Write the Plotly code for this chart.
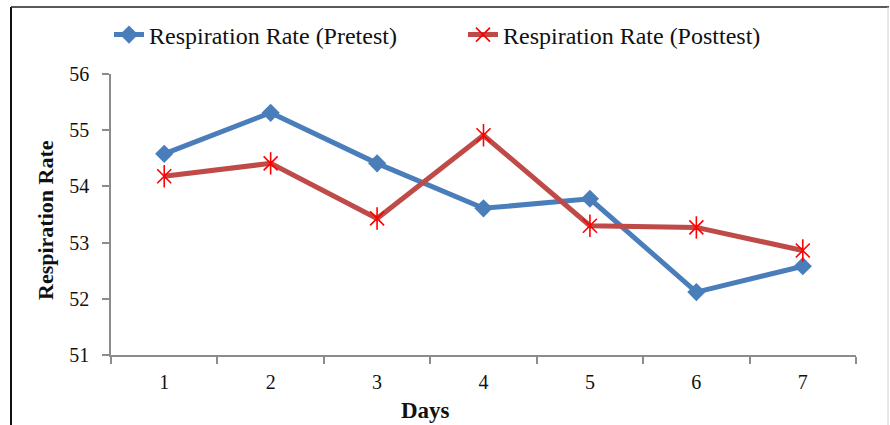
import plotly.graph_objects as go

days = ["1", "2", "3", "4", "5", "6", "7"]
pretest = [54.58, 55.31, 54.41, 53.61, 53.78, 52.12, 52.58]
posttest = [54.18, 54.41, 53.43, 54.91, 53.30, 53.27, 52.86]
y_ticks = [51, 52, 53, 54, 55, 56]

W, H = 890, 425
L, R, T, B = 111, 34, 74, 70
pw, ph = W - L - R, H - T - B


def px(x):
    return (x - L) / pw


def py(y):
    return (H - B - y) / ph


FONT = "Liberation Serif"
BLUE = "#4A7EBB"
RED_LINE = "#BE4B48"
RED = "#FF0000"

fig = go.Figure()
fig.add_trace(go.Scatter(
    x=days, y=pretest, mode="lines+markers", name="Respiration Rate (Pretest)",
    line=dict(color=BLUE, width=5),
    marker=dict(symbol="diamond", size=14, color=BLUE),
))
fig.add_trace(go.Scatter(
    x=days, y=posttest, mode="lines+markers", name="Respiration Rate (Posttest)",
    line=dict(color=RED_LINE, width=5),
    marker=dict(symbol="x-thin-open", size=14, color=RED, line=dict(width=1.6, color=RED)),
))
fig.add_trace(go.Scatter(
    x=days, y=posttest, mode="markers", showlegend=False, hoverinfo="skip",
    marker=dict(symbol="line-ns-open", size=16, color=RED, line=dict(width=1.6, color=RED)),
))

fig.update_layout(
    width=W, height=H,
    margin=dict(l=L, r=R, t=T, b=B),
    paper_bgcolor="white", plot_bgcolor="white",
    font=dict(family=FONT, color="#111111"),
    showlegend=True,
    legend=dict(
        orientation="h", x=px(109), y=py(35), xanchor="left", yanchor="middle",
        font=dict(family=FONT, size=24, color="#111111"),
        bgcolor="rgba(0,0,0,0)", itemwidth=30, tracegroupgap=0,
        entrywidth=309, entrywidthmode="pixels",
    ),
    xaxis=dict(
        type="category", range=[-0.5, 6.5], showline=True, linecolor="#8C8C8C", linewidth=1.5,
        ticks="outside", tickson="boundaries", ticklen=7, tickcolor="#8C8C8C", tickwidth=1.5,
        showgrid=False, zeroline=False,
        tickfont=dict(family=FONT, size=20, color="#111111"), ticklabelstandoff=8,
    ),
    yaxis=dict(
        range=[51, 56], tickvals=y_ticks, showline=True, linecolor="#8C8C8C", linewidth=1.5,
        ticks="outside", ticklen=7, tickcolor="#8C8C8C", tickwidth=1.5,
        showgrid=False, zeroline=False,
        tickfont=dict(family=FONT, size=20, color="#111111"), ticklabelstandoff=9,
    ),
    annotations=[
        dict(text="<b>Respiration Rate</b>", x=px(45), y=py(220), xref="paper", yref="paper",
             textangle=-90, showarrow=False, font=dict(family=FONT, size=22, color="#111111"),
             xanchor="center", yanchor="middle"),
        dict(text="<b>Days</b>", x=px(425), y=py(410), xref="paper", yref="paper",
             showarrow=False, font=dict(family=FONT, size=23, color="#111111"),
             xanchor="center", yanchor="middle"),
    ],
    shapes=[
        dict(type="line", xref="paper", yref="paper", x0=px(11), x1=px(11), y0=py(7), y1=py(430),
             line=dict(color="#111111", width=2)),
        dict(type="line", xref="paper", yref="paper", x0=px(11), x1=px(889), y0=py(7), y1=py(7),
             line=dict(color="#222222", width=1.5)),
        dict(type="line", xref="paper", yref="paper", x0=px(888), x1=px(888), y0=py(7), y1=py(430),
             line=dict(color="#D0D0D0", width=1)),
    ],
)

fig.write_html("out.html")
